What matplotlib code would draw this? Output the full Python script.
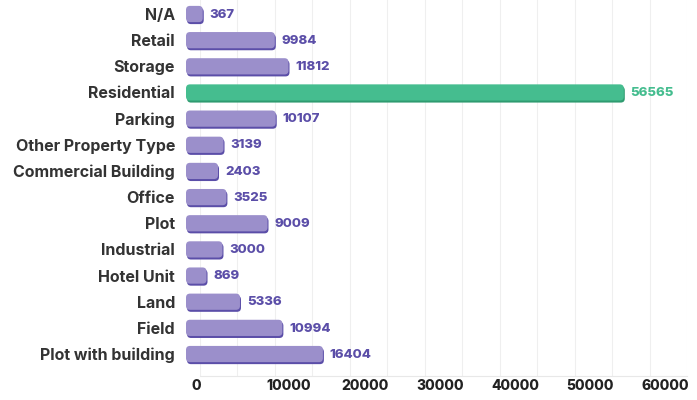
import matplotlib.pyplot as plt
from matplotlib.patches import FancyBboxPatch
from matplotlib.transforms import offset_copy

# data, top to bottom
categories = ['N/A', 'Retail', 'Storage', 'Residential', 'Parking', 'Other Property Type',
              'Commercial Building', 'Office', 'Plot', 'Industrial', 'Hotel Unit', 'Land',
              'Field', 'Plot with building']
values = [367, 9984, 11812, 56565, 10107, 3139, 2403, 3525, 9009, 3000, 869, 5336, 10994, 16404]
highlight = 'Residential'
xticks = [0, 10000, 20000, 30000, 40000, 50000, 60000]

purple = '#9b8fcb'
purple_dark = '#5b4ea8'
green = '#45bd8f'
green_dark = '#2f9b70'

plt.rcParams['font.family'] = ['Inter', 'DejaVu Sans']

fig = plt.figure(figsize=(6.97, 4.0), dpi=100)
ax = fig.add_axes([200 / 697, 24 / 400, 487 / 697, 376 / 400])

ax.set_xlim(0, 65000)
ax.set_ylim(len(categories) - 1 + 0.84, -0.535)

# px -> data conversions for rounded corners
xpx = 65000 / 487
ypx = (len(categories) - 1 + 0.84 + 0.535) / 376
start = -14 * xpx
h = 0.62
shadow = offset_copy(ax.transData, fig=fig, x=1, y=-2, units='dots')

for i, (cat, v) in enumerate(zip(categories, values)):
    fill, edge = (green, green_dark) if cat == highlight else (purple, purple_dark)
    for tr, col in [(shadow, edge), (ax.transData, fill)]:
        p = FancyBboxPatch((start, i - h / 2), v - start, h,
                           boxstyle=f'round,pad=0,rounding_size={4 * xpx}',
                           mutation_aspect=ypx / xpx,
                           facecolor=col, edgecolor='none', transform=tr, clip_on=False)
        ax.add_patch(p)
    ax.annotate(str(v), (v, i), xytext=(5, -0.5), textcoords='offset points',
                ha='left', va='center', fontsize=9.5, fontweight='heavy',
                color=green if cat == highlight else purple_dark)

ax.set_yticks(range(len(categories)))
ax.set_yticklabels(categories, fontsize=11.5, fontweight='bold', color='#333333')
ax.tick_params(axis='y', length=0, pad=18)

ax.set_xticks(range(0, 65001, 5000), minor=False)
ax.set_xticklabels([''] * 14)
ax.tick_params(axis='x', length=0)
ax.grid(axis='x', color='#efefef', linewidth=0.8)
ax.set_axisbelow(True)
for t in xticks:
    ax.annotate(str(t), (t, 0), xycoords=('data', 'axes fraction'), xytext=(-6, -7),
                textcoords='offset points', ha='left', va='center',
                fontsize=10, fontweight='heavy', color='#222222')

for s in ['top', 'right', 'left']:
    ax.spines[s].set_visible(False)
ax.spines['bottom'].set_color('#e8e8e8')

fig.savefig('out.png', dpi=100)
